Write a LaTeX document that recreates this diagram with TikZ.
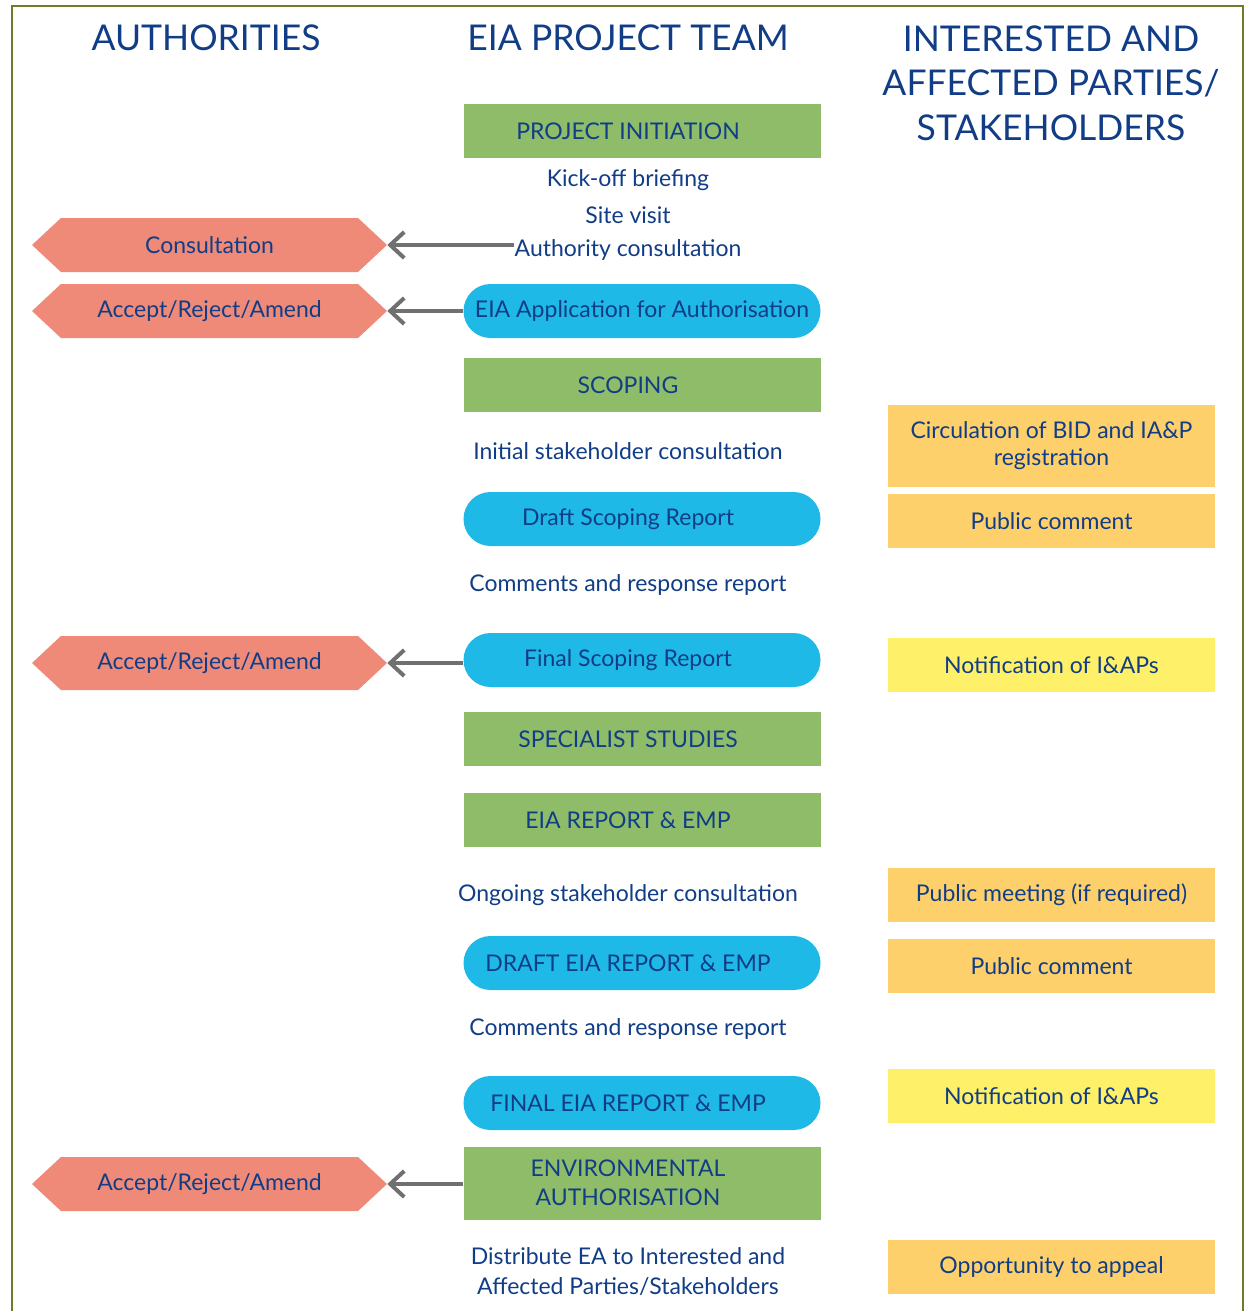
\documentclass[tikz,border=0pt]{standalone}
\usepackage{fontspec}
\setmainfont{Lato}
\usetikzlibrary{shapes.symbols,arrows.meta}
\definecolor{txt}{HTML}{103D86}
\definecolor{grn}{HTML}{8FBC69}
\definecolor{blu}{HTML}{1FB9E8}
\definecolor{salmon}{HTML}{EF8A78}
\definecolor{org}{HTML}{FDD06B}
\definecolor{ylw}{HTML}{FEF068}
\definecolor{arr}{HTML}{707070}
\definecolor{olive}{HTML}{6E7B2B}
\tikzset{
  head/.style={text=txt,font=\fontsize{35.5}{44.5}\selectfont,align=center},
  phase/.style={fill=grn,minimum width=357pt,minimum height=54pt,inner sep=0pt},
  report/.style={phase,fill=blu,rounded corners=27pt},
  note/.style={text=txt,inner sep=1pt,font=\fontsize{23}{30}\selectfont,align=center},
  boxtext/.style={note,font=\fontsize{23}{29}\selectfont},
  authbox/.style={signal,signal to=west and east,signal pointer angle=86,fill=salmon,text=txt,minimum width=355pt,minimum height=54pt,inner sep=0pt,font=\fontsize{23}{29}\selectfont},
  iapbox/.style={fill=org,text=txt,minimum width=327pt,minimum height=54pt,inner sep=0pt,font=\fontsize{23}{27}\selectfont,align=center},
  feed/.style={draw=arr,line width=4pt,-{Straight Barb[length=14pt,width=26pt,line width=4pt]}}
}
\begin{document}
\begin{tikzpicture}[x=1pt,y=-1pt]
\useasboundingbox(0,0)rectangle(1249,1311);
%frame
\draw[olive,line width=2.5pt](12,1320)--(12,6)--(1243,6)--(1243,1320);
%column heads
\node[head](hauth)at(206,38){AUTHORITIES};
\node[head](hteam)at(628,38){EIA PROJECT TEAM};
\node[head,anchor=north](hiap)at(1051,22){INTERESTED AND\\AFFECTED PARTIES/\\STAKEHOLDERS};
%project team
\node[phase](init)at(642,131){};
\node[boxtext](initt)at(628,131){PROJECT INITIATION};
\node[note](kick)at(628,180){Kick-off briefing};
\node[note](site)at(628,215){Site visit};
\node[note](authc)at(628,250){Authority consultation};
\node[report](appl)at(642,311){};
\node[boxtext](applt)at(642,311){EIA Application for Authorisation};
\node[phase](scop)at(642,385){};
\node[boxtext](scopt)at(628,385){SCOPING};
\node[note](initc)at(628,451){Initial stakeholder consultation};
\node[report](dscop)at(642,519){};
\node[boxtext](dscopt)at(628,519){Draft Scoping Report};
\node[note](crr1)at(628,585){Comments and response report};
\node[report](fscop)at(642,660){};
\node[boxtext](fscopt)at(628,660){Final Scoping Report};
\node[phase](spec)at(642,739){};
\node[boxtext](spect)at(628,739){SPECIALIST STUDIES};
\node[phase](eia)at(642,820){};
\node[boxtext](eiat)at(628,820){EIA REPORT \& EMP};
\node[note](ongo)at(628,895){Ongoing stakeholder consultation};
\node[report](deia)at(642,963){};
\node[boxtext](deiat)at(628,963){DRAFT EIA REPORT \& EMP};
\node[note](crr2)at(628,1029){Comments and response report};
\node[report](feia)at(642,1103){};
\node[boxtext](feiat)at(628,1103){FINAL EIA REPORT \& EMP};
\node[phase,minimum height=73pt](envauth)at(642,1183){};
\node[boxtext](envautht)at(628,1183){ENVIRONMENTAL\\AUTHORISATION};
\node[note](distr)at(628,1272){Distribute EA to Interested and\\Affected Parties/Stakeholders};
%authorities
\node[authbox](cons)at(209.5,245){Consultation};
\node[authbox](acc1)at(209.5,311){Accept/Reject/Amend};
\node[authbox](acc2)at(209.5,663){Accept/Reject/Amend};
\node[authbox](acc3)at(209.5,1184){Accept/Reject/Amend};
\draw[feed](authc.west|-cons.east)--(cons.east);
\draw[feed](appl.west|-acc1.east)--(acc1.east);
\draw[feed](fscop.west|-acc2.east)--(acc2.east);
\draw[feed](envauth.west|-acc3.east)--(acc3.east);
%interested and affected parties
\node[iapbox,minimum height=82pt](bid)at(1051.5,446){Circulation of BID and IA\&P\\registration};
\node[iapbox](pc1)at(1051.5,521){Public comment};
\node[iapbox,fill=ylw](not1)at(1051.5,665){Notification of I\&APs};
\node[iapbox](meet)at(1051.5,895){Public meeting (if required)};
\node[iapbox](pc2)at(1051.5,966){Public comment};
\node[iapbox,fill=ylw](not2)at(1051.5,1096){Notification of I\&APs};
\node[iapbox](appeal)at(1051.5,1267){Opportunity to appeal};
\end{tikzpicture}
\end{document}
